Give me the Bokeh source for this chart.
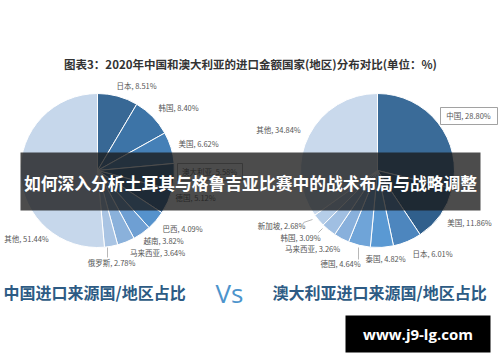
import math
from bokeh.plotting import figure
from bokeh.models import Range1d, ColumnDataSource
from bokeh.core.properties import value
from bokeh.embed import file_html
from bokeh.resources import INLINE

W, H = 500, 362

# ---------------- data ----------------
title_text = "图表3：2020年中国和澳大利亚的进口金额国家(地区)分布对比(单位：%)"
banner_text = "如何深入分析土耳其与格鲁吉亚比赛中的战术布局与战略调整"

cn_names = ["日本", "韩国", "美国", "澳大利亚", "德国", "巴西", "越南", "马来西亚", "俄罗斯", "其他"]
cn_values = [8.51, 8.40, 6.62, 5.58, 5.12, 4.09, 3.82, 3.64, 2.78, 51.44]

au_names = ["中国", "美国", "日本", "泰国", "德国", "马来西亚", "韩国", "新加坡", "其他"]
au_values = [28.80, 11.86, 6.01, 4.82, 4.64, 3.26, 3.09, 2.68, 34.84]

left_caption = "中国进口来源国/地区占比"
right_caption = "澳大利亚进口来源国/地区占比"
vs_text = "Vs"
site_text = "www.j9-lg.com"

# ---------------- styles / layout ----------------
cn_colors = ["#386895", "#3d74a7", "#4580b7", "#2f5f8e", "#30649a",
             "#5592cc", "#6e9fd3", "#8ab1db", "#a9c4e3", "#c6d7eb"]
au_colors = ["#3a6b98", "#305f8c", "#4d86be", "#5a99d3", "#6fa4d8",
             "#88b0dc", "#a0bfe2", "#b5cde8", "#c9d9ec"]

# label anchor positions (pixel coords from top-left), text centred
cn_label_pos = [(136, 85), (178, 107), (198, 143), (209, 171), (195, 197),
                (182, 228), (163, 240), (157, 252), (111, 262), (26, 238)]
au_label_pos = [(468, 115), (469, 222), (432, 253), (385, 258), (340, 263),
                (312, 248), (300, 237), (281, 225), (278, 129)]

CX_L, CX_R, CY, R = 97, 377, 170, 77


def fy(y):
    return H - y


p = figure(width=W, height=H, output_backend="svg", toolbar_location=None,
           x_range=Range1d(0, W), y_range=Range1d(0, H),
           x_axis_location=None, y_axis_location=None, min_border=0)
p.grid.visible = False
p.outline_line_color = None
p.background_fill_color = "white"
p.border_fill_color = "white"


def pie(cx, names, vals, colors):
    tot = sum(vals)
    starts, ends = [], []
    c = 0.0
    for v in vals:
        starts.append(math.pi / 2 - 2 * math.pi * c / tot)
        c += v
        ends.append(math.pi / 2 - 2 * math.pi * c / tot)
    src = ColumnDataSource(dict(start=starts, end=ends, color=colors))
    p.wedge(x=cx, y=fy(CY), radius=R, start_angle="start", end_angle="end",
            direction="clock", fill_color="color", line_color="white",
            line_width=1, source=src)


pie(CX_L, cn_names, cn_values, cn_colors)
pie(CX_R, au_names, au_values, au_colors)

# leader lines
p.segment(x0=[107, 358, 303, 318], y0=[fy(247), fy(247), fy(222), fy(232)],
          x1=[107, 358, 312, 322], y1=[fy(257), fy(259), fy(219), fy(228)],
          line_color="#999999", line_width=0.7)

# boxes around highlighted labels
p.quad(left=[177, 440], right=[242, 497], top=[fy(163), fy(107)],
       bottom=[fy(180), fy(124)], fill_color="white", line_color="#8a8a8a",
       line_width=0.8)

lab_font = value("Noto Sans CJK SC")
cn_texts = [f"{n}, {v:.2f}%" for n, v in zip(cn_names, cn_values)]
au_texts = [f"{n}, {v:.2f}%" for n, v in zip(au_names, au_values)]
p.text(x=[q[0] for q in cn_label_pos], y=[fy(q[1]) for q in cn_label_pos],
       text=cn_texts, text_font=lab_font, text_font_size="7.5px",
       text_color="#555555", text_align="center", text_baseline="middle")
p.text(x=[q[0] for q in au_label_pos], y=[fy(q[1]) for q in au_label_pos],
       text=au_texts, text_font=lab_font, text_font_size="7.5px",
       text_color="#555555", text_align="center", text_baseline="middle")

# title
p.text(x=[250], y=[fy(63)], text=[title_text], text_font=lab_font,
       text_font_size="11.5px", text_font_style="bold", text_color="#333333",
       text_align="center", text_baseline="middle")

# banner overlay
p.quad(left=[20], right=[480], top=[fy(152)], bottom=[fy(210)],
       fill_color="#1a1a1a", fill_alpha=0.78, line_color=None)
p.text(x=[250], y=[fy(182)], text=[banner_text], text_font=lab_font,
       text_font_size="16.8px", text_font_style="bold", text_color="white",
       text_align="center", text_baseline="middle")

# bottom captions
p.text(x=[3], y=[fy(291)], text=[left_caption], text_font=lab_font,
       text_font_size="16px", text_font_style="bold", text_color="#2d5b84",
       text_align="left", text_baseline="middle")
p.text(x=[229], y=[fy(292)], text=[vs_text], text_font=value("Open Sans"),
       text_font_size="26px", text_color="#4d94cc",
       text_align="center", text_baseline="middle")
p.text(x=[272], y=[fy(291)], text=[right_caption], text_font=lab_font,
       text_font_size="16px", text_font_style="bold", text_color="#2d5b84",
       text_align="left", text_baseline="middle")

# site box
p.quad(left=[345], right=[490], top=[fy(315)], bottom=[fy(352)],
       fill_color="black", line_color=None)
p.text(x=[417.5], y=[fy(333.5)], text=[site_text], text_font=value("Open Sans"),
       text_font_size="15px", text_font_style="bold", text_color="white",
       text_align="center", text_baseline="middle")

open("out.html", "w").write(file_html(p, INLINE))
